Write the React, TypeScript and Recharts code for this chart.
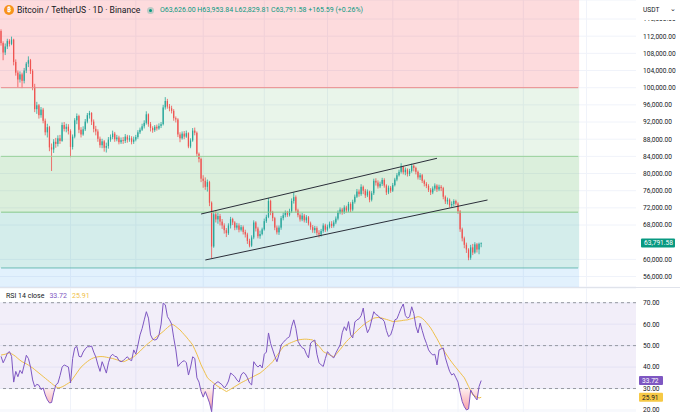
import React from "react";
import {
  ComposedChart,
  Bar,
  Line,
  Area,
  XAxis,
  YAxis,
  CartesianGrid,
  ReferenceArea,
  ReferenceLine,
} from "recharts";

const W = 680;
const PRICE_H = 287;
const RSI_H = 124;
const AXIS_W = 44;
const SLOTS = 302; // daily slots across the plot, incl. empty space on the right

const FONT = "Roboto, 'Noto Sans', sans-serif";
const TEXT = "#131722";
const UP = "#26a69a";
const DOWN = "#ef5350";
const GRID = "#f0f3fa";
const RSI_COLOR = "#7e57c2";
const MA_COLOR = "#efc04a";
const LEGEND_GREEN = "#089981";

// daily candles in thousands of USDT; each open is the previous close
const FIRST_OPEN = 113.2;
const CLOSE = [
  110.4, 108.2, 109.6, 110.9, 110.2, 111.2, 106.0, 103.5, 101.9, 103.1,
  101.6, 104.0, 105.6, 106.4, 103.9, 100.2, 95.0, 95.9, 93.6, 94.9,
  92.3, 89.6, 90.8, 86.1, 85.6, 87.4, 86.9, 88.2, 87.6, 91.3,
  90.4, 90.9, 89.9, 86.2, 88.6, 92.4, 93.4, 90.2, 89.1, 90.3,
  92.1, 93.6, 94.1, 92.1, 90.4, 89.8, 88.1, 86.6, 87.5, 86.0,
  86.4, 87.9, 88.5, 89.3, 88.0, 88.4, 87.3, 87.8, 87.6, 88.6,
  87.9, 88.2, 87.4, 87.9, 88.5, 89.6, 90.2, 91.0, 91.8, 93.8,
  91.5, 90.6, 90.1, 90.9, 90.5, 91.1, 91.5, 95.4, 96.9, 95.6,
  95.2, 94.6, 92.9, 92.6, 89.1, 88.2, 89.3, 88.6, 89.4, 86.3,
  87.7, 90.0, 89.5, 84.6, 83.4, 78.8, 78.3, 76.9, 78.0, 73.2,
  63.0, 70.5, 69.3, 70.1, 68.8, 67.9, 66.8, 66.1, 67.9, 69.4,
  68.6, 67.4, 67.9, 66.9, 67.5, 66.4, 65.8, 64.3, 63.2, 65.1,
  68.6, 67.2, 65.4, 65.9, 67.0, 68.9, 69.9, 73.6, 71.0, 69.6,
  67.4, 66.3, 67.4, 69.6, 70.3, 70.9, 70.4, 71.2, 73.6, 74.5,
  71.4, 70.3, 69.3, 70.2, 69.1, 69.8, 68.4, 67.5, 66.8, 67.3,
  66.2, 65.8, 66.6, 67.9, 66.9, 67.6, 68.3, 67.8, 68.6, 69.5,
  70.9, 71.6, 71.0, 72.1, 71.4, 72.9, 71.6, 73.4, 74.6, 75.8,
  75.2, 76.9, 76.0, 74.9, 75.8, 73.9, 75.4, 78.3, 77.9, 77.0,
  77.6, 78.5, 77.2, 75.6, 76.7, 76.0, 77.3, 78.6, 79.6, 80.4,
  81.6, 80.3, 80.9, 79.9, 80.6, 81.8, 81.3, 80.4, 79.1, 79.6,
  78.3, 77.6, 77.1, 76.2, 75.6, 76.5, 77.2, 76.3, 76.9, 76.6,
  74.6, 73.5, 73.9, 72.6, 72.9, 73.6, 73.0, 71.2, 67.0, 64.9,
  63.4, 62.3, 60.4, 62.8, 61.6, 63.5, 62.3, 63.626, 63.79158,
];
const HIGH = [
  113.6, 110.8, 110.3, 111.4, 111.3, 111.9, 111.4, 106.6, 104.0, 103.8,
  103.5, 104.6, 106.0, 107.3, 106.7, 104.3, 100.9, 96.7, 96.2, 95.5,
  95.3, 92.8, 91.6, 91.1, 87.0, 88.0, 88.3, 88.9, 89.0, 91.9,
  92.0, 91.6, 91.5, 90.3, 89.1, 92.9, 94.0, 93.7, 90.8, 91.0,
  92.7, 94.1, 94.6, 94.3, 92.6, 91.1, 90.3, 88.6, 88.1, 87.8,
  87.2, 88.5, 89.1, 90.0, 89.7, 89.0, 88.8, 88.4, 88.5, 89.2,
  89.0, 88.9, 88.7, 88.6, 89.0, 90.1, 90.7, 91.6, 92.4, 94.5,
  94.0, 92.0, 91.0, 91.3, 91.4, 91.7, 92.0, 96.0, 97.8, 97.4,
  96.2, 95.8, 95.0, 93.3, 92.9, 89.6, 89.8, 89.9, 90.0, 89.6,
  88.2, 90.6, 90.7, 89.8, 84.9, 83.7, 79.6, 79.1, 78.6, 78.3,
  73.5, 71.2, 71.4, 70.9, 70.6, 69.4, 68.4, 67.3, 68.4, 69.9,
  69.7, 68.9, 68.5, 68.4, 68.0, 67.9, 66.9, 66.2, 64.8, 65.6,
  69.1, 68.9, 67.6, 66.7, 67.4, 69.5, 70.4, 74.3, 73.9, 71.3,
  69.9, 67.9, 67.9, 70.1, 70.9, 71.4, 71.3, 71.8, 74.2, 75.6,
  74.9, 71.8, 70.7, 70.8, 70.6, 70.3, 70.1, 68.8, 68.0, 67.8,
  67.7, 66.8, 67.1, 68.4, 68.3, 68.1, 68.8, 68.9, 69.1, 70.0,
  71.4, 72.1, 72.0, 72.6, 72.5, 73.4, 73.3, 73.9, 75.1, 76.4,
  76.3, 77.5, 77.2, 76.4, 76.3, 76.0, 75.9, 78.8, 78.9, 78.4,
  78.1, 79.0, 78.9, 77.5, 77.2, 77.1, 77.8, 79.0, 80.1, 80.9,
  82.4, 81.8, 81.4, 81.2, 81.1, 82.3, 82.1, 81.6, 80.7, 80.1,
  79.9, 78.6, 78.0, 77.5, 76.6, 77.0, 77.7, 77.5, 77.4, 77.3,
  76.9, 74.9, 74.4, 74.2, 73.5, 74.0, 73.9, 73.3, 71.5, 67.4,
  65.3, 63.9, 62.6, 63.4, 63.6, 64.0, 63.8, 63.9, 63.95384,
];
const LOW = [
  109.8, 106.4, 107.6, 109.0, 109.6, 109.9, 105.2, 102.8, 100.1, 101.2,
  99.9, 101.0, 103.4, 104.8, 103.2, 99.4, 94.3, 93.9, 92.8, 93.0,
  91.7, 88.9, 88.4, 85.2, 80.6, 84.8, 86.0, 86.3, 86.9, 87.4,
  89.8, 89.6, 89.1, 83.8, 85.6, 88.2, 91.5, 89.4, 88.4, 88.8,
  89.9, 91.7, 92.8, 91.3, 89.6, 88.9, 87.4, 86.0, 85.9, 85.1,
  84.9, 85.8, 87.4, 88.0, 87.4, 87.5, 86.8, 86.9, 86.9, 87.1,
  87.2, 87.4, 86.8, 86.9, 87.5, 88.1, 89.2, 89.9, 90.5, 91.4,
  90.9, 89.8, 89.5, 89.7, 90.0, 90.2, 90.6, 91.2, 94.9, 95.1,
  94.5, 94.0, 92.3, 91.9, 88.5, 87.3, 87.9, 88.0, 88.3, 85.9,
  85.9, 87.4, 88.9, 84.0, 82.6, 78.0, 76.7, 76.2, 75.8, 72.4,
  60.3, 62.7, 68.6, 68.3, 67.9, 67.1, 66.0, 65.2, 65.7, 67.2,
  68.0, 66.8, 66.9, 66.3, 66.5, 65.8, 65.1, 63.6, 62.8, 62.9,
  64.7, 66.5, 64.9, 64.8, 65.6, 66.7, 68.5, 69.6, 70.3, 68.9,
  66.8, 65.8, 65.7, 66.9, 69.1, 69.8, 69.9, 70.0, 70.8, 73.0,
  70.9, 69.8, 68.8, 68.9, 68.6, 68.5, 67.9, 66.9, 66.2, 66.1,
  65.6, 65.1, 65.3, 66.2, 66.4, 66.5, 67.2, 67.3, 67.4, 68.2,
  69.1, 70.5, 70.4, 70.6, 70.9, 71.0, 71.0, 71.2, 73.0, 74.3,
  74.6, 74.8, 75.2, 74.3, 74.5, 73.3, 73.5, 75.0, 77.2, 76.5,
  76.6, 77.1, 76.7, 75.0, 75.2, 75.5, 75.7, 77.0, 78.2, 79.3,
  80.0, 79.8, 79.6, 79.3, 79.4, 80.2, 80.5, 79.8, 78.6, 78.5,
  77.8, 77.0, 76.6, 75.7, 75.0, 75.2, 76.0, 75.7, 75.9, 75.9,
  74.0, 72.9, 72.8, 72.1, 72.2, 72.4, 72.6, 70.6, 66.4, 64.2,
  62.6, 61.5, 59.8, 59.9, 61.0, 61.3, 61.6, 61.2, 62.82981,
];

// RSI(14) and its moving average, one value per candle
const RSI = [
  45, 42, 44, 46.5, 47.2, 45, 33, 38, 35.5, 38.5,
  37, 41, 45.5, 44, 40, 34, 30.8, 32, 31.5, 29.5,
  30.3, 27, 24.7, 23.3, 23.5, 28, 31.7, 32.5, 36, 40,
  41, 40.5, 40, 32.6, 44, 49, 49.6, 45, 44.7, 47,
  48.5, 49.5, 49.5, 49.8, 47, 44.7, 41, 38, 42.5, 40,
  37.2, 42, 45, 46, 45, 44.8, 43, 42.5, 43, 44,
  44.8, 43.5, 43, 48, 46, 50.3, 55, 58, 62, 65.8,
  62.8, 55, 53, 52.6, 53, 55, 60, 69.8, 69, 63.5,
  62, 60, 53.6, 48, 40.3, 41.5, 42.5, 43, 42, 36.3,
  40, 44.8, 44, 35, 33, 28.6, 26, 28.6, 26, 23.3,
  19.2, 31.7, 32.5, 33.2, 32.5, 31.7, 30.3, 31.5, 33.5, 37.2,
  36.5, 35.5, 34, 33, 36.3, 37.5, 36.8, 35, 32.6, 31.7,
  42.5, 41, 40, 41, 39.6, 46, 47, 55.9, 51, 48,
  45, 42.5, 46, 50.3, 51.5, 52.6, 53.5, 54.2, 59, 62,
  58, 52, 50.3, 49, 48.5, 46, 44.3, 51.2, 52, 52.6,
  46, 42, 41, 40.3, 44, 47.2, 46, 45, 44.3, 46.6,
  48.5, 50.3, 56, 58.8, 57, 61.2, 55, 53.6, 61, 62,
  62.5, 64, 67.5, 60, 56, 58, 62, 65.8, 64.5, 64,
  62.8, 62.5, 61.2, 57, 54.2, 55, 58, 62, 62.5, 65,
  67.5, 69.4, 64, 62.8, 63.5, 68.1, 65, 59, 55.9, 60.5,
  57, 53.6, 51, 48, 46.6, 45.6, 46, 41, 48, 48.5,
  48.9, 44.3, 41, 38, 36.3, 37, 35, 33, 28, 23.9,
  21.5, 20, 20.5, 29.3, 27.5, 26, 24.7, 31, 33.72,
];
const RSI_MA = [
  45.6, 45.8, 46.0, 46.3, 46.6, 46.2, 45.6, 44.9, 44.0, 43.2,
  42.5, 42.0, 41.5, 40.9, 40.2, 39.6, 38.8, 38.0, 37.2, 36.4,
  35.6, 34.8, 34.0, 33.2, 32.4, 31.6, 30.9, 30.3, 30.4, 30.8,
  31.3, 31.9, 32.5, 33.2, 34.5, 35.9, 37.3, 38.7, 40.0, 40.9,
  41.8, 42.6, 43.3, 43.9, 44.3, 44.6, 44.8, 44.9, 44.9, 44.8,
  44.6, 44.4, 44.2, 44.0, 43.7, 43.4, 43.1, 42.8, 42.5, 42.8,
  43.3, 43.8, 44.3, 44.8, 45.6, 46.5, 47.4, 48.4, 49.4, 50.3,
  51.1, 51.9, 52.7, 53.5, 54.3, 55.0, 55.8, 56.6, 57.5, 58.4,
  59.2, 60.0, 59.6, 58.9, 58.1, 57.3, 56.2, 55.1, 54.0, 52.8,
  51.6, 50.3, 48.2, 46.0, 43.5, 41.0, 39.0, 37.0, 35.0, 34.1,
  33.3, 32.5, 31.7, 31.0, 30.4, 29.8, 29.2, 28.6, 29.1, 29.7,
  30.3, 30.9, 31.5, 32.1, 32.7, 33.2, 33.7, 34.2, 34.7, 35.2,
  35.7, 36.2, 36.7, 37.2, 38.0, 38.8, 39.7, 40.6, 41.5, 42.5,
  43.9, 45.3, 46.7, 48.1, 49.5, 50.1, 50.6, 51.1, 51.5, 51.9,
  52.3, 52.6, 52.8, 52.9, 53.0, 53.0, 52.9, 52.8, 52.6, 51.7,
  50.7, 49.7, 48.5, 47.2, 46.7, 46.2, 45.7, 45.2, 44.8, 45.8,
  47.0, 48.2, 49.4, 50.7, 51.9, 52.9, 53.9, 54.9, 55.9, 56.9,
  57.8, 58.7, 59.6, 60.3, 61.0, 61.6, 62.2, 62.8, 63.0, 63.1,
  63.0, 62.8, 62.5, 62.2, 61.9, 61.6, 61.2, 61.3, 61.4, 61.5,
  61.6, 61.8, 61.9, 62.0, 62.3, 62.6, 62.9, 63.2, 63.5, 63.3,
  62.7, 61.8, 60.7, 59.5, 58.2, 56.6, 54.9, 53.2, 51.4, 49.5,
  48.1, 46.6, 45.1, 43.6, 42.3, 41.0, 39.8, 38.6, 37.4, 36.2,
  35.0, 33.0, 31.0, 29.0, 27.0, 26.5, 26.0, 25.6, 25.91,
];

const PRICE_DOMAIN = [53564, 120430];
// 64,000 sits under the last-price tag, so the axis leaves it out
const PRICE_TICKS = [
  56000, 60000, 68000, 72000, 76000, 80000, 84000, 88000, 92000,
  96000, 100000, 104000, 108000, 112000, 116000,
];
const RSI_DOMAIN = [19.07, 76.85];
const RSI_TICKS = [20, 30, 40, 50, 60, 70];
const RSI_GUIDES = [70, 50, 30];
const MONTH_SLOTS = [33, 64, 96, 125, 155, 186, 217, 248, 278];

// horizontal zones drawn on the chart, they stop at slot 274
const ZONE_END = 274;
const ZONES = [
  { from: 100000, to: 120430, fill: "rgba(242,54,69,0.18)" },
  { from: 84000, to: 100000, fill: "rgba(76,175,80,0.12)" },
  { from: 71000, to: 84000, fill: "rgba(76,175,80,0.2)" },
  { from: 58000, to: 71000, fill: "rgba(0,150,136,0.17)" },
  { from: 53564, to: 58000, fill: "rgba(33,150,243,0.13)" },
];
const ZONE_EDGES = [
  { y: 100000, color: "#ea8a8a" },
  { y: 84000, color: "#9ad29c" },
  { y: 71000, color: "#86c989" },
  { y: 58000, color: "#6cbcb4" },
];
// rising channel drawn by hand: [slot, price]
const CHANNEL = [
  [[95, 70573], [207, 83550]],
  [[97, 59855], [231, 73835]],
];

const LAST = { o: 63626.0, h: 63953.84, l: 62829.81, c: 63791.58, chg: 165.59, pct: 0.26 };

const rows = Array.from({ length: SLOTS }, (_, i) => {
  if (i >= CLOSE.length) return { i };
  const open = i === 0 ? FIRST_OPEN : CLOSE[i - 1];
  const close = CLOSE[i];
  return {
    i,
    open: open * 1000,
    close: close * 1000,
    high: Math.max(HIGH[i], open, close) * 1000,
    low: Math.min(LOW[i], open, close) * 1000,
    rsi: RSI[i],
    ma: RSI_MA[i],
  };
});

const fmt2 = (v: number) =>
  v.toLocaleString("en-US", { minimumFractionDigits: 2, maximumFractionDigits: 2 });

function Candle(props: any) {
  const { x, y, width, height, payload } = props;
  if (!payload || payload.close == null) return null;
  const top = Math.min(y, y + height);
  const bottom = Math.max(y, y + height);
  const span = payload.high - payload.low || 1;
  const toY = (v: number) => top + ((payload.high - v) / span) * (bottom - top);
  const color = payload.close >= payload.open ? UP : DOWN;
  const cx = x + width / 2;
  const bodyTop = toY(Math.max(payload.open, payload.close));
  const bodyBottom = toY(Math.min(payload.open, payload.close));
  const bw = Math.max(1, width * 0.62);
  return (
    <g>
      <line x1={cx} x2={cx} y1={top} y2={bottom} stroke={color} strokeWidth={0.8} />
      <rect x={cx - bw / 2} y={bodyTop} width={bw} height={Math.max(0.7, bodyBottom - bodyTop)} fill={color} />
    </g>
  );
}

const axisTag = (bg: string, fg: string, text: string, w: number, dx: number) => (props: any) => {
  const vb = props.viewBox ?? {};
  const x = (vb.x ?? 0) + (vb.width ?? 0) + dx;
  const y = vb.y ?? 0;
  return (
    <g>
      <rect x={x} y={y - 4.5} width={w} height={9} rx={1} fill={bg} />
      <text x={x + 3} y={y} dy="0.36em" fontSize={6.6} fill={fg} fontFamily={FONT}>
        {text}
      </text>
    </g>
  );
};

const monthLines = ({ xAxis }: any) => {
  const s = xAxis?.scale;
  if (!s) return [];
  const bw = typeof s.bandwidth === "function" ? s.bandwidth() : 0;
  return MONTH_SLOTS.map((m) => (typeof s === "function" ? s(m) : s.map(m)) + bw / 2).filter(
    (v) => Number.isFinite(v)
  );
};

const tickStyle = { fontSize: 6.6, fill: TEXT, fontFamily: FONT };

export default function App() {
  return (
    <div style={{ position: "relative", width: W, height: 412, background: "#fff", fontFamily: FONT, overflow: "hidden" }}>
      <style>{`body{margin:0}`}</style>

      <ComposedChart width={W} height={PRICE_H} data={rows} margin={{ top: 0, right: 0, left: 0, bottom: 0 }} barCategoryGap={0} barGap={0}>
        <CartesianGrid stroke={GRID} verticalCoordinatesGenerator={monthLines} />
        <XAxis dataKey="i" hide scale="band" />
        <YAxis
          orientation="right"
          width={AXIS_W}
          domain={PRICE_DOMAIN}
          allowDataOverflow
          ticks={PRICE_TICKS}
          interval={0}
          tickFormatter={fmt2}
          axisLine={false}
          tickLine={false}
          tickSize={5}
          tickMargin={2}
          tick={tickStyle}
        />
        {ZONES.map((z) => (
          <ReferenceArea key={z.from} x1={0} x2={ZONE_END} y1={z.from} y2={z.to} fill={z.fill} fillOpacity={1} stroke="none" ifOverflow="hidden" />
        ))}
        {ZONE_EDGES.map((e) => (
          <ReferenceLine
            key={e.y}
            segment={[{ x: 0, y: e.y }, { x: ZONE_END, y: e.y }]}
            stroke={e.color}
            strokeWidth={1}
          />
        ))}
        <Bar dataKey={(d: any) => (d.close == null ? undefined : [d.low, d.high])} shape={(p: any) => <Candle {...p} />} isAnimationActive={false} />
        {CHANNEL.map(([a, b], k) => (
          <ReferenceLine
            key={k}
            segment={[{ x: a[0], y: a[1] }, { x: b[0], y: b[1] }]}
            stroke="#2a2e39"
            strokeWidth={1}
            ifOverflow="visible"
          />
        ))}
        <ReferenceLine y={LAST.c} stroke="none" ifOverflow="visible" label={axisTag(LEGEND_GREEN, "#fff", fmt2(LAST.c), 34, 5)} />
      </ComposedChart>

      <div style={{ position: "absolute", left: 0, top: PRICE_H, width: W, height: 1, background: "#e0e3eb" }} />

      <div style={{ position: "absolute", left: 0, top: PRICE_H + 1 }}>
        <ComposedChart width={W} height={RSI_H} data={rows} margin={{ top: 0, right: 0, left: 0, bottom: 0 }}>
          <defs>
            <linearGradient id="osFill" x1="0" y1="0" x2="0" y2="1">
              <stop offset="0%" stopColor="#f23645" stopOpacity={0.08} />
              <stop offset="100%" stopColor="#f23645" stopOpacity={0.5} />
            </linearGradient>
          </defs>
          <CartesianGrid stroke={GRID} verticalCoordinatesGenerator={monthLines} />
          <XAxis dataKey="i" hide scale="band" />
          <YAxis
            orientation="right"
            width={AXIS_W}
            domain={RSI_DOMAIN}
            allowDataOverflow
            ticks={RSI_TICKS}
            interval={0}
            tickFormatter={(v: number) => v.toFixed(2)}
            axisLine={false}
            tickLine={false}
            tickSize={5}
            tickMargin={2}
            tick={tickStyle}
          />
          <ReferenceArea y1={30} y2={70} fill={RSI_COLOR} fillOpacity={0.1} stroke="none" />
          {RSI_GUIDES.map((g) => (
            <ReferenceLine key={g} y={g} stroke="#9598a1" strokeDasharray="3 3" strokeWidth={1} />
          ))}
          <Area
            dataKey={(d: any) => (d.rsi == null ? undefined : [Math.min(d.rsi, 30), 30])}
            stroke="none"
            fill="url(#osFill)"
            fillOpacity={1}
            isAnimationActive={false}
          />
          <Line dataKey="ma" stroke={MA_COLOR} strokeWidth={1} dot={false} isAnimationActive={false} />
          <Line dataKey="rsi" stroke={RSI_COLOR} strokeWidth={1} dot={false} isAnimationActive={false} />
          <ReferenceLine y={33.72} stroke="none" ifOverflow="visible" label={axisTag(RSI_COLOR, "#fff", "33.72", 24, 3)} />
          <ReferenceLine y={25.91} stroke="none" ifOverflow="visible" label={axisTag("#f6c945", TEXT, "25.91", 24, 3)} />
        </ComposedChart>
      </div>

      {/* legend rows */}
      <div style={{ position: "absolute", left: 4, top: 5, width: 10, height: 10, borderRadius: "50%", background: "#f7931a", color: "#fff", fontSize: 7, lineHeight: "10px", textAlign: "center", fontWeight: 700 }}>
        ₿
      </div>
      <div style={{ position: "absolute", left: 17, top: 4, fontSize: 8.6, lineHeight: "12px", color: TEXT, whiteSpace: "nowrap" }}>
        Bitcoin / TetherUS · 1D · Binance
      </div>
      <div style={{ position: "absolute", left: 147, top: 6.5, width: 7, height: 7, borderRadius: "50%", background: "rgba(8,153,129,0.25)" }} />
      <div style={{ position: "absolute", left: 149, top: 8.5, width: 3, height: 3, borderRadius: "50%", background: LEGEND_GREEN }} />
      <div style={{ position: "absolute", left: 160, top: 4, fontSize: 7, lineHeight: "12px", color: LEGEND_GREEN, whiteSpace: "nowrap" }}>
        O{fmt2(LAST.o)} H{fmt2(LAST.h)} L{fmt2(LAST.l)} C{fmt2(LAST.c)} +{fmt2(LAST.chg)} (+{LAST.pct.toFixed(2)}%)
      </div>
      <div style={{ position: "absolute", left: 638, top: 2, width: 42, height: 17.5, background: "#fff", fontSize: 6.6, lineHeight: "16px", color: TEXT }}>
        <span style={{ marginLeft: 5 }}>USDT</span>
        <span style={{ position: "absolute", right: 4, top: -1, fontSize: 7 }}>⌄</span>
      </div>
      <div style={{ position: "absolute", left: 6, top: PRICE_H + 4, fontSize: 7, lineHeight: "10px", whiteSpace: "nowrap" }}>
        <span style={{ color: TEXT }}>RSI 14 close</span>
        <span style={{ color: RSI_COLOR, marginLeft: 5 }}>33.72</span>
        <span style={{ color: MA_COLOR, marginLeft: 5 }}>25.91</span>
      </div>
    </div>
  );
}
